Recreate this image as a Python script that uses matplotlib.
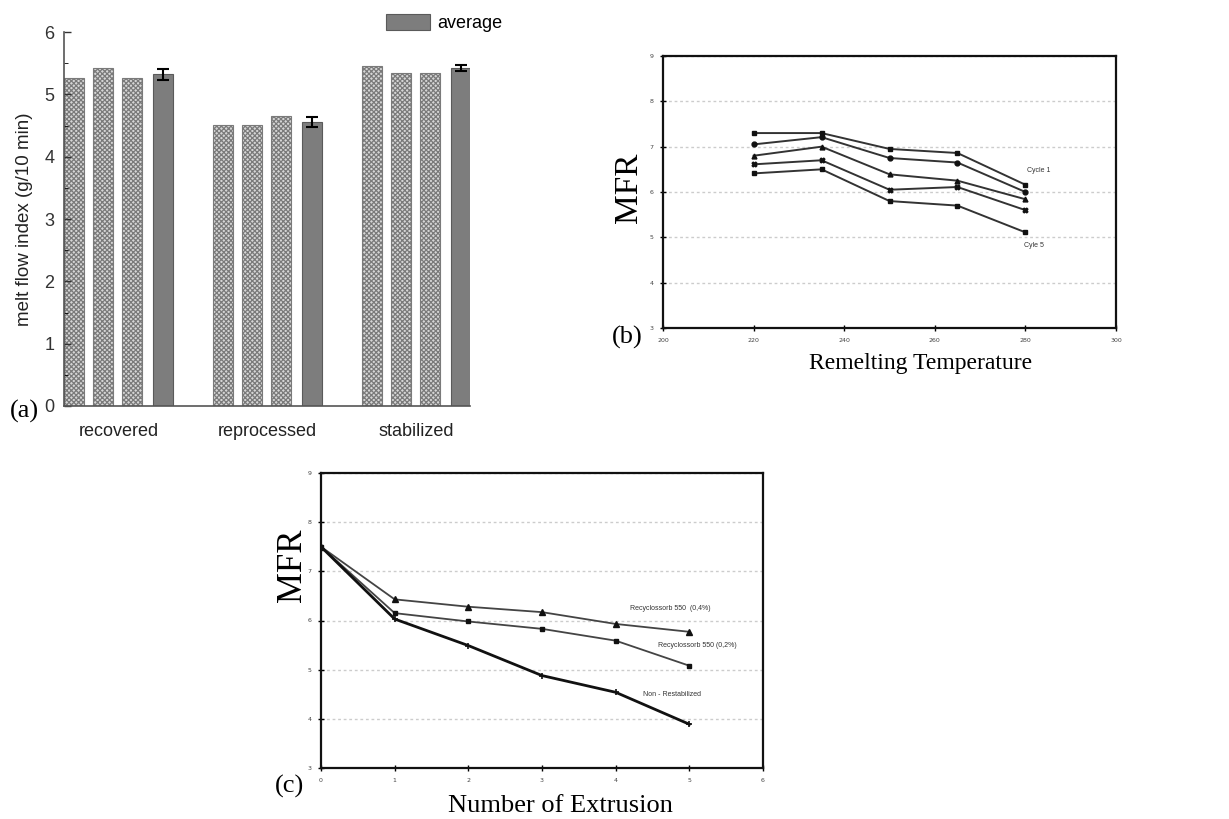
import numpy as np
import matplotlib
matplotlib.use("Agg")
import matplotlib.pyplot as plt

# ---- data: panel (a) melt flow index ----
groups = ["recovered", "reprocessed", "stabilized"]
sample_vals = [[5.26, 5.42, 5.26],
               [4.51, 4.51, 4.65],
               [5.46, 5.35, 5.35]]
avg_vals = [5.32, 4.56, 5.42]
avg_err = [0.09, 0.08, 0.05]

# ---- data: panel (b) MFR vs remelting temperature ----
temps = [220, 235, 250, 265, 280]
cycle_curves = [[7.30, 7.30, 6.95, 6.86, 6.16],
                [7.05, 7.21, 6.75, 6.65, 6.00],
                [6.80, 7.00, 6.39, 6.25, 5.84],
                [6.61, 6.70, 6.05, 6.11, 5.60],
                [6.41, 6.50, 5.80, 5.70, 5.11]]
cycle_markers = ["s", "o", "^", "X", "s"]

# ---- data: panel (c) MFR vs number of extrusions ----
extrusions = [0, 1, 2, 3, 4, 5]
mfr_04 = [7.50, 6.43, 6.28, 6.17, 5.93, 5.77]
mfr_02 = [7.50, 6.15, 5.98, 5.83, 5.59, 5.08]
mfr_non = [7.50, 6.03, 5.49, 4.88, 4.54, 3.89]

W, H = 1229, 819
fig = plt.figure(figsize=(W / 100, H / 100), dpi=100)
serif = ["Liberation Serif", "DejaVu Serif"]
sans = ["Liberation Sans", "DejaVu Sans"]
plt.rcParams["hatch.linewidth"] = 0.9


def box(l, t, r, b):
    return [l / W, 1 - b / H, (r - l) / W, (b - t) / H]


# ================= panel (a) =================
ax = fig.add_axes(box(64, 32, 470, 406))
gap = 5.14
offs = [0, 1, 2]
bw = 0.68
for g, vals in enumerate(sample_vals):
    xs = [g * gap + o for o in offs]
    ax.bar(xs, vals, width=bw, color="#d6d6d6", edgecolor="#7a7a7a",
           hatch="xxxxxxx", linewidth=0.8)
avg_x = [g * gap + 3.07 for g in range(len(groups))]
avg_bars = ax.bar(avg_x, avg_vals, width=bw, color="#7d7d7d", edgecolor="#5a5a5a",
                  linewidth=0.8)
ax.errorbar(avg_x, avg_vals, yerr=avg_err, fmt="none", ecolor="black",
            elinewidth=1.5, capsize=4, capthick=1.5)

ax.set_xlim(-0.34, 13.66)
ax.set_ylim(0, 6)
ax.set_yticks(range(7))
ax.set_yticks(np.arange(0.5, 6, 1), minor=True)
ax.set_xticks([g * gap + 1.535 for g in range(len(groups))])
ax.set_xticklabels(groups, family=sans, fontsize=13, color="#222")
ax.tick_params(axis="x", length=0, pad=12)
ax.tick_params(axis="y", direction="in", length=5, width=1, labelsize=13,
               colors="#333", pad=7)
ax.tick_params(axis="y", which="minor", direction="in", length=3)
for lab in ax.get_yticklabels():
    lab.set_family(sans)
for s in ["top", "right"]:
    ax.spines[s].set_visible(False)
for s in ["left", "bottom"]:
    ax.spines[s].set_color("#555")
    ax.spines[s].set_linewidth(1.2)
ax.set_ylabel("melt flow index (g/10 min)", family=sans, fontsize=13.5,
              color="#222", labelpad=8)
ax.legend([avg_bars], ["average"], frameon=False, loc="center left",
          bbox_to_anchor=(370 / W, 1 - 23 / H), bbox_transform=fig.transFigure,
          handlelength=2.4, handleheight=1.0, handletextpad=0.4,
          prop={"family": sans, "size": 13})
fig.text(24 / W, 1 - 411 / H, "(a)", family=serif, fontsize=19,
         ha="center", va="center")


def style_line_axes(ax):
    ax.set_ylim(3, 9)
    ax.set_yticks(range(3, 10))
    ax.yaxis.grid(True, linestyle=(0, (2, 2)), color="#cccccc", linewidth=1)
    ax.set_axisbelow(True)
    ax.tick_params(direction="inout", length=4, width=1, labelsize=4.5,
                   labelcolor="#444", pad=5)
    for s in ax.spines.values():
        s.set_linewidth(1.6)
        s.set_color("#111")


# ================= panel (b) =================
bx = fig.add_axes(box(663, 56, 1116, 328))
for vals, mk in zip(cycle_curves, cycle_markers):
    bx.plot(temps, vals, color="#333", linewidth=1.4, marker=mk,
            markersize=3.5, markerfacecolor="#111", markeredgecolor="#111")
bx.set_xlim(200, 300)
bx.set_xticks(range(200, 301, 20))
style_line_axes(bx)
bx.text(280.3, 6.48, "Cycle 1", fontsize=5, color="#333", family=sans, va="center")
bx.text(279.6, 4.83, "Cyle 5", fontsize=5, color="#333", family=sans, va="center")
fig.text(629 / W, 1 - 188 / H, "MFR", family=serif, fontsize=24,
         rotation=90, ha="center", va="center")
fig.text(921 / W, 1 - 364 / H, "Remelting Temperature", family=serif,
         fontsize=17, ha="center", va="center")
fig.text(627 / W, 1 - 337 / H, "(b)", family=serif, fontsize=19,
         ha="center", va="center")

# ================= panel (c) =================
cx = fig.add_axes(box(321, 473, 763, 768))
cx.plot(extrusions, mfr_04, color="#444", linewidth=1.3, marker="^",
        markersize=4, markerfacecolor="#111", markeredgecolor="#111")
cx.plot(extrusions, mfr_02, color="#444", linewidth=1.3, marker="s",
        markersize=3.5, markerfacecolor="#111", markeredgecolor="#111")
cx.plot(extrusions, mfr_non, color="#111", linewidth=2.0, marker="+",
        markersize=4, markeredgewidth=1.2)
cx.set_xlim(0, 6)
cx.set_xticks(range(7))
style_line_axes(cx)
cx.text(4.19, 6.24, "Recyclossorb 550  (0,4%)", fontsize=5, color="#333",
        family=sans, va="center")
cx.text(4.57, 5.49, "Recyclossorb 550 (0,2%)", fontsize=5, color="#333",
        family=sans, va="center")
cx.text(4.37, 4.50, "Non - Restabilized", fontsize=5, color="#333",
        family=sans, va="center")
fig.text(292 / W, 1 - 565 / H, "MFR", family=serif, fontsize=25,
         rotation=90, ha="center", va="center")
fig.text(560 / W, 0.003, "Number of Extrusion", family=serif, fontsize=19,
         ha="center", va="bottom")
fig.text(289 / W, 1 - 786 / H, "(c)", family=serif, fontsize=19,
         ha="center", va="center")

fig.savefig("out.png", dpi=100)
